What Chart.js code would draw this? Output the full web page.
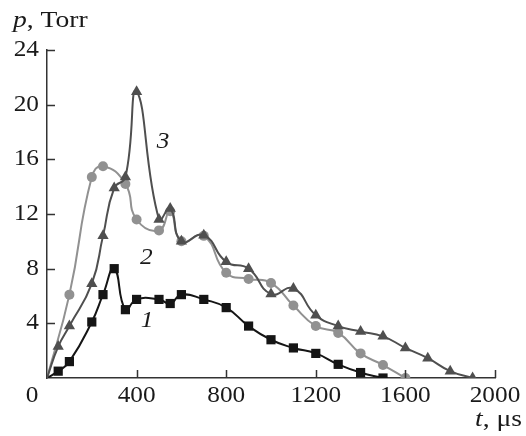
<!DOCTYPE html>
<html>
<head>
<meta charset="utf-8">
<script src="https://cdn.jsdelivr.net/npm/chart.js@4"></script>
<style>
  html, body { margin: 0; padding: 0; background: #fff; }
  #wrap { width: 526px; height: 436px; }
</style>
</head>
<body>
<div id="wrap"><canvas id="c" width="526" height="436"></canvas></div>
<script>
// time, microseconds / pressure, Torr
const t1 = [0, 50, 100, 200, 250, 300, 350, 400, 500, 550, 600, 700, 800, 900, 1000, 1100, 1200, 1300, 1400, 1500];
const p1 = [0, 0.5, 1.2, 4.1, 6.1, 8.0, 5.0, 5.75, 5.75, 5.45, 6.1, 5.75, 5.15, 3.8, 2.8, 2.2, 1.8, 1.0, 0.4, 0];

const t2 = [0, 100, 200, 250, 350, 400, 500, 550, 600, 700, 800, 900, 1000, 1100, 1200, 1300, 1400, 1500, 1600];
const p2 = [0, 6.1, 14.7, 15.5, 14.2, 11.6, 10.8, 12.2, 10.0, 10.4, 7.7, 7.25, 6.95, 5.3, 3.8, 3.3, 1.8, 0.95, 0];

const t3 = [0, 50, 100, 200, 250, 300, 350, 400, 500, 550, 600, 700, 800, 900, 1000, 1100, 1200, 1300, 1400, 1500, 1600, 1700, 1800, 1900];
const p3 = [0, 2.3, 3.8, 6.9, 10.4, 13.9, 14.7, 20.95, 11.6, 12.4, 10.0, 10.45, 8.5, 8.0, 6.15, 6.55, 4.6, 3.8, 3.4, 3.05, 2.2, 1.45, 0.5, 0];

const xTicks = [0, 400, 800, 1200, 1600, 2000];
const yTicks = [0, 4, 8, 12, 16, 20, 24];

// curve numbers, placed in data units
const curveTags = [
  { text: '1', t: 447, p: 4.2 },
  { text: '2', t: 443, p: 8.8 },
  { text: '3', t: 518, p: 17.3 }
];

const SERIF = '"Liberation Serif", "Times New Roman", serif';
const FS = 23;        // text size
const STRETCH = 1.1;  // the typeset labels run a little wide
const INK = '#1a1a1a';

const pts = (xs, ys) => xs.map((x, i) => ({ x: x, y: ys[i] }));

// order: lower number is painted on top
function series(label, xs, ys, color, shape, r, order) {
  return {
    label: label,
    data: pts(xs, ys),
    order: order,
    borderColor: color,
    backgroundColor: color,
    borderWidth: 2,
    tension: 0.5,
    pointStyle: shape,
    pointRadius: ctx => ctx.dataIndex === 0 ? 0 : r,
    pointBorderWidth: 0,
    pointHoverRadius: r
  };
}

// text drawn with a horizontal stretch; parts = [[string, italic], ...]
function label(ctx, parts, x, y, align, base, k) {
  k = k || STRETCH;
  ctx.save();
  ctx.textBaseline = base || 'alphabetic';
  ctx.textAlign = 'left';
  const fonts = parts.map(p => (p[1] ? 'italic ' : '') + FS + 'px ' + SERIF);
  let w = 0;
  parts.forEach((p, i) => { ctx.font = fonts[i]; w += ctx.measureText(p[0]).width; });
  w *= k;
  let x0 = align === 'right' ? x - w : align === 'center' ? x - w / 2 : x;
  ctx.translate(x0, y);
  ctx.scale(k, 1);
  let cx = 0;
  parts.forEach((p, i) => {
    ctx.font = fonts[i];
    ctx.fillText(p[0], cx, 0);
    cx += ctx.measureText(p[0]).width;
  });
  ctx.restore();
}

// inward ticks, tick labels, axis titles, curve numbers
const decor = {
  id: 'decor',
  afterDraw(chart) {
    const { ctx, chartArea: a, scales: { x, y } } = chart;
    ctx.save();
    ctx.strokeStyle = '#333';
    ctx.lineWidth = 1.5;
    ctx.beginPath();
    xTicks.slice(1).forEach(v => {
      const px = Math.round(x.getPixelForValue(v)) + 0.5;
      ctx.moveTo(px, a.bottom);
      ctx.lineTo(px, a.bottom - 8);
    });
    yTicks.slice(1).forEach(v => {
      const py = Math.round(y.getPixelForValue(v)) + 0.5;
      ctx.moveTo(a.left, py);
      ctx.lineTo(a.left + 8, py);
    });
    ctx.stroke();

    ctx.fillStyle = INK;
    xTicks.slice(1).forEach(v => label(ctx, [[String(v)]], x.getPixelForValue(v), a.bottom + 18, 'center', 'middle'));
    yTicks.slice(1).forEach(v => label(ctx, [[String(v)]], a.left - 8, y.getPixelForValue(v), 'right', 'middle'));
    label(ctx, [['0']], 32, a.bottom + 18, 'center', 'middle');

    label(ctx, [['p', true], [', Torr']], 13, 27, 'left', null, 1.2);
    label(ctx, [['t', true], [', \u03bcs']], 522, 426, 'right', null, 1.2);

    curveTags.forEach(c => {
      label(ctx, [[c.text, true]], x.getPixelForValue(c.t), y.getPixelForValue(c.p), 'center', 'middle');
    });
    ctx.restore();
  }
};

new Chart(document.getElementById('c'), {
  type: 'line',
  data: {
    datasets: [
      series('1', t1, p1, '#151515', 'rect', 6.5, 1),
      series('2', t2, p2, '#919191', 'circle', 5, 2),
      series('3', t3, p3, '#4f4f4f', 'triangle', 6.5, 0)
    ]
  },
  options: {
    responsive: false,
    animation: false,
    events: [],
    layout: { padding: { top: 50, right: 31, left: 0, bottom: 0 } },
    plugins: { legend: { display: false }, tooltip: { enabled: false } },
    scales: {
      x: {
        type: 'linear',
        min: 0, max: 2000,
        afterFit: s => { s.height = 58; },
        afterBuildTicks: s => { s.ticks = xTicks.map(v => ({ value: v })); },
        grid: { display: false },
        border: { display: true, color: '#333', width: 1.5 },
        ticks: { display: false }
      },
      y: {
        min: 0, max: 24,
        afterFit: s => { s.width = 47; },
        afterBuildTicks: s => { s.ticks = yTicks.map(v => ({ value: v })); },
        grid: { display: false },
        border: { display: true, color: '#333', width: 1.5 },
        ticks: { display: false }
      }
    }
  },
  plugins: [decor]
});
</script>
</body>
</html>
